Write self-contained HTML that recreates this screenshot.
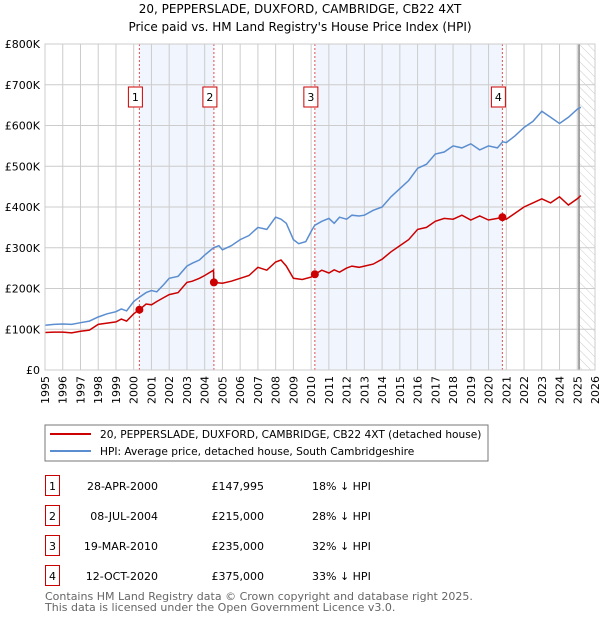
<!DOCTYPE html>
<html><head><meta charset="utf-8"><style>
body{margin:0;background:#fff;font-family:"DejaVu Sans","Liberation Sans",sans-serif;}
svg text{font-family:"DejaVu Sans","Liberation Sans",sans-serif;}
</style></head><body>
<svg id="chart" width="600" height="620" xmlns="http://www.w3.org/2000/svg">
<defs><pattern id="hatch" width="6" height="6" patternUnits="userSpaceOnUse" patternTransform="rotate(-45)"><line x1="0" y1="0" x2="0" y2="6" stroke="#ccc" stroke-width="1"/></pattern></defs>
<text x="300" y="13" text-anchor="middle" font-size="12">20, PEPPERSLADE, DUXFORD, CAMBRIDGE, CB22 4XT</text>
<text x="300" y="31" text-anchor="middle" font-size="12">Price paid vs. HM Land Registry's House Price Index (HPI)</text>
<g id="plot"></g>
<rect x="45" y="425" width="443" height="36" fill="#fff" stroke="#777"/>
<line x1="50" y1="434" x2="91" y2="434" stroke="#cc0000" stroke-width="2"/>
<text x="100" y="438" font-size="10.6">20, PEPPERSLADE, DUXFORD, CAMBRIDGE, CB22 4XT (detached house)</text>
<line x1="50" y1="451" x2="91" y2="451" stroke="#5b8ed0" stroke-width="2"/>
<text x="100" y="455" font-size="10.6">HPI: Average price, detached house, South Cambridgeshire</text>
<g id="table"></g>
<text x="45" y="600" font-size="11" fill="#666">Contains HM Land Registry data © Crown copyright and database right 2025.</text>
<text x="45" y="611" font-size="11" fill="#666">This data is licensed under the Open Government Licence v3.0.</text>
</svg>
<script>
const yearTicks=[1995,1996,1997,1998,1999,2000,2001,2002,2003,2004,2005,2006,2007,2008,2009,2010,2011,2012,2013,2014,2015,2016,2017,2018,2019,2020,2021,2022,2023,2024,2025,2026];
const priceTicks=[0,100000,200000,300000,400000,500000,600000,700000,800000];
const priceTickLabels=["£0","£100K","£200K","£300K","£400K","£500K","£600K","£700K","£800K"];
const hpiDates=[1995,1995.5,1996,1996.5,1997,1997.5,1998,1998.5,1999,1999.3,1999.6,2000,2000.3,2000.7,2001,2001.3,2001.7,2002,2002.5,2003,2003.3,2003.7,2004,2004.5,2004.8,2005,2005.5,2006,2006.5,2007,2007.5,2008,2008.3,2008.6,2009,2009.3,2009.7,2010,2010.2,2010.6,2011,2011.3,2011.6,2012,2012.3,2012.7,2013,2013.5,2014,2014.5,2015,2015.5,2016,2016.5,2017,2017.5,2018,2018.5,2019,2019.5,2020,2020.5,2020.8,2021,2021.5,2022,2022.5,2023,2023.5,2024,2024.5,2025,2025.2];
const hpiValues=[110000,112000,113000,112000,116000,120000,130000,138000,143000,150000,145000,168000,178000,190000,195000,192000,210000,225000,230000,255000,262000,270000,282000,300000,305000,295000,305000,320000,330000,350000,345000,375000,370000,360000,320000,310000,315000,340000,355000,365000,372000,360000,375000,370000,380000,378000,380000,392000,400000,425000,445000,465000,495000,505000,530000,535000,550000,545000,555000,540000,550000,545000,560000,558000,575000,595000,610000,635000,620000,605000,620000,640000,645000];
const ppDates=[1995,1995.5,1996,1996.5,1997,1997.5,1998,1998.5,1999,1999.3,1999.6,2000,2000.32,2000.7,2001,2001.3,2001.7,2002,2002.5,2003,2003.3,2003.7,2004,2004.5,2004.52,2005,2005.5,2006,2006.5,2007,2007.5,2008,2008.3,2008.6,2009,2009.5,2010,2010.21,2010.6,2011,2011.3,2011.6,2012,2012.3,2012.7,2013,2013.5,2014,2014.5,2015,2015.5,2016,2016.5,2017,2017.5,2018,2018.5,2019,2019.5,2020,2020.5,2020.78,2021,2021.5,2022,2022.5,2023,2023.5,2024,2024.5,2025,2025.2];
const ppValues=[92000,93000,93000,91000,95000,98000,112000,115000,118000,125000,120000,138000,147995,162000,160000,168000,178000,185000,190000,215000,218000,225000,232000,245000,215000,213000,218000,225000,232000,252000,245000,265000,270000,255000,225000,222000,228000,235000,245000,238000,246000,240000,250000,255000,252000,255000,260000,272000,290000,305000,320000,345000,350000,365000,372000,370000,380000,368000,378000,368000,372000,375000,370000,385000,400000,410000,420000,410000,425000,405000,420000,428000];
const saleDates=[2000.32,2004.52,2010.21,2020.78];
const salePrices=[147995,215000,235000,375000];
const saleLabels=["1","2","3","4"];
const saleDateText=["28-APR-2000","08-JUL-2004","19-MAR-2010","12-OCT-2020"];
const salePriceText=["£147,995","£215,000","£235,000","£375,000"];
const saleHpiText=["18% ↓ HPI","28% ↓ HPI","32% ↓ HPI","33% ↓ HPI"];

const X0=45,X1=595,Y0=370,Y1=44;
const xs=d=>X0+(d-1995)/(2026-1995)*(X1-X0);
const ys=v=>Y0-v/800000*(Y0-Y1);
const NS="http://www.w3.org/2000/svg";
const plot=document.getElementById('plot');
function mk(tag,attrs,parent){const e=document.createElementNS(NS,tag);for(const k in attrs)e.setAttribute(k,attrs[k]);(parent||plot).appendChild(e);return e;}

for(let i=0;i<saleDates.length;i+=2){
  const r=mk('rect',{x:xs(saleDates[i]),y:Y1,width:xs(saleDates[i+1])-xs(saleDates[i]),height:Y0-Y1,fill:'#eef3fc',opacity:0.8});
  
  
}
const hatch=mk('rect',{x:xs(2025.1),y:Y1,width:X1-xs(2025.1),height:Y0-Y1,fill:'url(#hatch)'});


yearTicks.forEach(y=>{
  const l=mk('line',{x1:xs(y),x2:xs(y),y1:Y1,y2:Y0,stroke:'#ccc'});
  
  
  const t=mk('text',{x:0,y:0,'font-size':11,'text-anchor':'end',transform:`translate(${xs(y)+4},${Y0+6}) rotate(-90)`});
  t.textContent=y;
  
  
});
priceTicks.forEach((p,i)=>{
  const l=mk('line',{x1:X0,x2:X1,y1:ys(p),y2:ys(p),stroke:'#ccc'});
  
  
  const t=mk('text',{x:40,y:ys(p)+4,'font-size':11,'text-anchor':'end'});
  t.textContent=priceTickLabels[i];
  
  
});
const nl=mk('line',{x1:xs(2025.1),x2:xs(2025.1),y1:Y1,y2:Y0,stroke:'#888','stroke-width':1.5});


saleDates.forEach((d,i)=>{
  const l=mk('line',{x1:xs(d),x2:xs(d),y1:Y1,y2:Y0,stroke:'#e05050','stroke-dasharray':'2,2'});
  
  
  const b=mk('rect',{x:xs(d)-4-7,y:87,width:14,height:20,fill:'#fff',stroke:'#cc0000'});
  
  
  const t=mk('text',{x:xs(d)-4,y:101,'font-size':11,'text-anchor':'middle'});
  t.textContent=saleLabels[i];
  
  
});
function pts(ds,vs){return ds.map((d,i)=>xs(d).toFixed(1)+','+ys(vs[i]).toFixed(1)).join(' ');}
const hl=mk('polyline',{points:pts(hpiDates,hpiValues),fill:'none',stroke:'#5b8ed0','stroke-width':1.5});


const pl=mk('polyline',{points:pts(ppDates,ppValues),fill:'none',stroke:'#cc0000','stroke-width':1.5});


saleDates.forEach((d,i)=>{
  const c=mk('circle',{cx:xs(d),cy:ys(salePrices[i]),r:4,fill:'#cc0000'});
  
  
});
const fr=mk('rect',{x:X0,y:Y1,width:X1-X0,height:Y0-Y1,fill:'none',stroke:'#ccc'});


const tbl=document.getElementById('table');
saleLabels.forEach((s,i)=>{
  const y=475+i*30;
  const b=mk('rect',{x:45.5,y:y+0.5,width:14,height:20,fill:'#fff',stroke:'#cc0000'},tbl);
  
  
  const t=mk('text',{x:52.5,y:y+15,'font-size':11,'text-anchor':'middle'},tbl);t.textContent=s;
  
  
  const a=mk('text',{x:158,y:y+15,'font-size':11,'text-anchor':'end'},tbl);a.textContent=saleDateText[i];
  
  
  const p=mk('text',{x:264,y:y+15,'font-size':11,'text-anchor':'end'},tbl);p.textContent=salePriceText[i];
  
  
  const h=mk('text',{x:312,y:y+15,'font-size':11},tbl);h.textContent=saleHpiText[i];
  
  
});
</script>
</body></html>
